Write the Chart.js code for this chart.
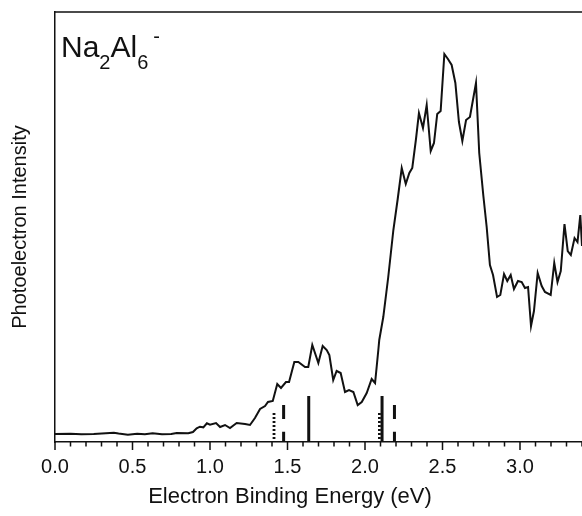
<!DOCTYPE html>
<html>
<head>
<meta charset="utf-8">
<script src="https://cdn.jsdelivr.net/npm/chart.js@4.4.1/dist/chart.umd.min.js"></script>
<style>
  html, body { margin: 0; padding: 0; background: #fff; overflow: hidden; }
</style>
</head>
<body>
<canvas id="chart" width="582" height="516"></canvas>
<script>
// spectrum, intensity in arbitrary units
const energy = [
  0.0, 0.1, 0.17, 0.25, 0.38, 0.41, 0.47, 0.53, 0.58, 0.63, 0.69, 0.75, 0.785, 0.86,
  0.89, 0.914, 0.935, 0.957, 0.98, 1.0, 1.039, 1.065, 1.097, 1.129, 1.172, 1.226, 1.258,
  1.29, 1.323, 1.355, 1.374, 1.405, 1.434, 1.458, 1.49, 1.51, 1.544, 1.57, 1.613, 1.634,
  1.66, 1.699, 1.727, 1.753, 1.77, 1.795, 1.817, 1.843, 1.871, 1.897, 1.925, 1.953, 1.979,
  2.011, 2.043, 2.065, 2.086, 2.092, 2.118, 2.15, 2.183, 2.211, 2.237, 2.263, 2.286, 2.305,
  2.329, 2.348, 2.374, 2.398, 2.424, 2.445, 2.466, 2.488, 2.512, 2.535, 2.559, 2.583, 2.606,
  2.628, 2.652, 2.677, 2.716, 2.737, 2.763, 2.785, 2.806, 2.826, 2.852, 2.873, 2.897, 2.918,
  2.94, 2.961, 2.987, 3.011, 3.032, 3.052, 3.071, 3.09, 3.114, 3.14, 3.161, 3.198, 3.221,
  3.242, 3.263, 3.287, 3.308, 3.328, 3.352, 3.371, 3.389, 3.4
];
const intensity = [
  8, 8.3, 7.7, 8, 9.3, 8.5, 7.3, 8.3, 7.7, 8.7, 7.7, 8, 9, 8.7,
  10, 13.7, 15.3, 14.7, 18.7, 17.3, 19, 15, 17, 14, 19, 18, 17,
  24, 33, 36, 40, 41, 58, 54, 60, 60, 80, 80, 75, 75,
  97, 79, 96, 92, 87, 62, 71, 69, 50, 52, 50, 37, 40,
  49, 63, 59, 92, 102, 125, 165, 212, 243, 274, 258, 269, 274,
  303, 329, 314, 337, 291, 299, 328, 331, 388, 383, 377, 359, 320,
  301, 322, 325, 359, 289, 247, 215, 177, 167, 145, 147, 168, 161,
  167, 153, 161, 160, 154, 155, 116, 131, 169, 156, 150, 147, 179,
  160, 171, 218, 191, 187, 204, 200, 227, 196
];

// calculated detachment energies shown as sticks
const solidSticks = [1.637, 2.11];
const dashedSticks = [1.475, 2.19];
const dottedSticks = [1.413, 2.093];
const solidHeight = 46;
const dashedHeight = 37;
const dottedHeight = 29;

const xLabels = [0.0, 0.5, 1.0, 1.5, 2.0, 2.5, 3.0];

const ink = "#111";
const font = "'Liberation Sans', Arial, sans-serif";
const isLabel = (v) => xLabels.some((t) => Math.abs(t - v) < 1e-6);

function stick(e, h, style) {
  let ds = {
    data: [{ x: e, y: h }, { x: e, y: 0 }],
    borderColor: ink,
    borderWidth: 3,
    pointRadius: 0,
    borderCapStyle: "butt",
  };
  if (style === "dashed") ds.borderDash = [14, 12.7];
  if (style === "dotted") {
    ds.borderDash = [2, 2];
    ds.borderWidth = 2.8;
  }
  return ds;
}

let datasets = [
  {
    data: energy.map((e, i) => ({ x: e, y: intensity[i] })),
    borderColor: ink,
    borderWidth: 2,
    pointRadius: 0,
    tension: 0,
  },
];
solidSticks.forEach((e) => datasets.push(stick(e, solidHeight, "solid")));
dashedSticks.forEach((e) => datasets.push(stick(e, dashedHeight, "dashed")));
dottedSticks.forEach((e) => datasets.push(stick(e, dottedHeight, "dotted")));

// top frame line, outward x ticks, x title and the species label
const frame = {
  id: "frame",
  afterDraw(chart) {
    const { ctx, chartArea } = chart;
    const xs = chart.scales.x;
    ctx.save();
    ctx.strokeStyle = ink;
    ctx.lineWidth = 1.5;
    ctx.beginPath();
    ctx.moveTo(chartArea.left, chartArea.top);
    ctx.lineTo(chartArea.right, chartArea.top);
    xs.ticks.forEach((t) => {
      const px = xs.getPixelForValue(t.value);
      ctx.moveTo(px, chartArea.bottom);
      ctx.lineTo(px, chartArea.bottom + (isLabel(t.value) ? 8 : 4.5));
    });
    ctx.stroke();

    ctx.fillStyle = ink;
    ctx.textAlign = "center";
    ctx.textBaseline = "middle";
    ctx.font = "22px " + font;
    ctx.fillText("Electron Binding Energy (eV)", 290, 497);

    ctx.textAlign = "left";
    ctx.textBaseline = "alphabetic";
    let x = chartArea.left + 6;
    const big = "30px " + font;
    const small = "20px " + font;
    const parts = [
      ["Na", big, 0],
      ["2", small, 12],
      ["Al", big, 0],
      ["6", small, 12],
    ];
    const base = chartArea.top + 45;
    parts.forEach(([s, f, dy]) => {
      ctx.font = f;
      ctx.fillText(s, x, base + dy);
      x += ctx.measureText(s).width;
    });
    ctx.font = small;
    ctx.fillText("-", x + 5, base - 14);
    ctx.restore();
  },
};

const chart = new Chart("chart", {
  type: "line",
  data: { datasets: datasets },
  plugins: [frame],
  options: {
    responsive: false,
    animation: false,
    layout: { padding: { top: 12, right: 0, left: 0, bottom: 0 } },
    plugins: { legend: { display: false }, tooltip: { enabled: false } },
    scales: {
      x: {
        type: "linear",
        min: 0,
        max: 3.4,
        afterFit: (s) => {
          s.height = 74;
          s.paddingRight = 0;
          s.paddingLeft = 0;
        },
        grid: { display: false, drawTicks: false },
        border: { display: true, color: ink, width: 1.5 },
        ticks: {
          stepSize: 0.1,
          autoSkip: false,
          maxRotation: 0,
          padding: 13,
          color: ink,
          font: { family: font, size: 20 },
          callback: (v) => (isLabel(v) ? v.toFixed(1) : ""),
        },
        title: { display: false },
      },
      y: {
        min: 0,
        max: 430,
        afterFit: (s) => { s.width = 55; },
        grid: { display: false, drawTicks: false },
        border: { display: true, color: ink, width: 1.5 },
        ticks: { display: false },
        title: {
          display: true,
          text: "Photoelectron Intensity",
          color: ink,
          padding: { top: 8, bottom: 0 },
          font: { family: font, size: 20 },
        },
      },
    },
  },
});
</script>
</body>
</html>
